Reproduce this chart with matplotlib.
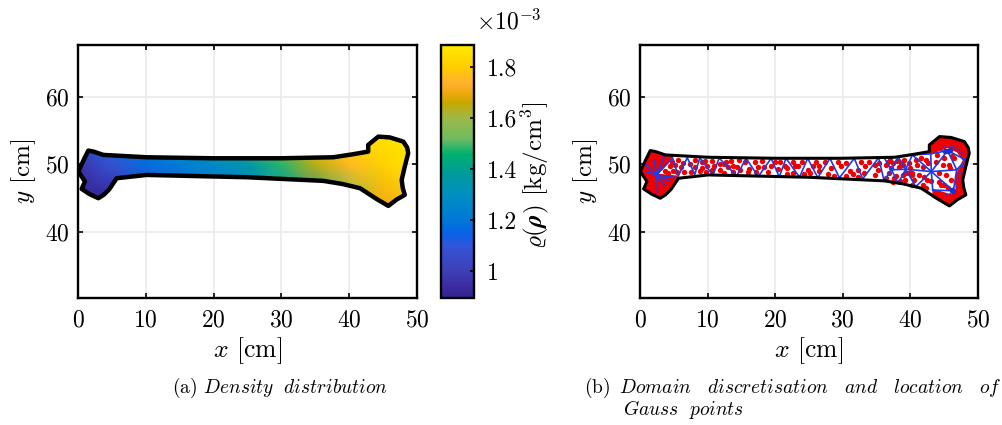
import matplotlib
matplotlib.use("Agg")
import matplotlib.pyplot as plt
from matplotlib.colors import LinearSegmentedColormap
from matplotlib.patches import Polygon

plt.rcParams['font.family'] = ['cmr10', 'DejaVu Sans']
plt.rcParams['mathtext.fontset'] = 'cm'
plt.rcParams['axes.formatter.use_mathtext'] = True
plt.rcParams['axes.unicode_minus'] = False

# bone outline (cm)
bone_x = [0.05, 0.9, 1.52, 2.3, 3.74, 10.1, 19.96, 29.8, 37.66, 40.5, 42.8, 42.8, 44.3, 46.0, 47.98, 48.55, 48.7,
          48.2, 47.74, 47.9, 48.2, 47.0, 45.77, 44.0, 41.6, 39.0, 36.18, 24.9, 10.1, 5.7, 4.6, 3.8, 3.0, 1.7,
          0.54, 1.03]
bone_y = [48.94, 50.8, 52.05, 51.9, 51.41, 51.06, 50.91, 50.91, 51.06, 51.5, 51.9, 52.89, 54.12, 54.0, 53.38, 52.5,
          51.66, 49.7, 47.7, 46.5, 45.48, 44.8, 43.85, 44.9, 46.47, 47.1, 47.56, 48.1, 48.44, 47.95, 46.3, 45.5,
          44.99, 45.6, 46.37, 47.46]

# density field, three rows over the grid (x10^-3)
grid_x = [0, 5, 10, 15, 20, 25, 30, 35, 40, 45, 50]
grid_y = [44, 50, 56]
rho_low = [0.894, 0.90, 0.99, 1.11, 1.18, 1.23, 1.29, 1.38, 1.52, 1.70, 1.77]
rho_mid = [0.97, 1.09, 1.17, 1.22, 1.27, 1.35, 1.48, 1.64, 1.76, 1.82, 1.88]
rho_top = [1.15, 1.21, 1.26, 1.32, 1.44, 1.60, 1.75, 1.80, 1.86, 1.886, 1.886]

# colormap
cb_vals = [0.894, 1.0, 1.1, 1.14, 1.2, 1.3, 1.38, 1.46, 1.52, 1.6, 1.66, 1.70, 1.74, 1.8, 1.886]
cb_cols = ['#352090', '#3f3fb8', '#3355d8', '#0a60e8', '#0078d8', '#0090c0', '#009a9a', '#00b070',
           '#70bb60', '#9db848', '#c8a800', '#f0aa10', '#ffb030', '#ffcc00', '#ffe800']

# mesh nodes right and left ends + zigzag along shaft
zig_x = [2.46, 4.82, 5.66, 7.0, 8.1, 8.85, 10.8, 11.7, 14.3, 15.7, 17.5, 19.4, 20.6, 21.6, 23.6, 24.8,
         26.3, 28.1, 29.5, 31.7, 32.95, 35.3, 36.1]
zig_y = [48.44, 50.95, 48.3, 51.0, 48.5, 50.95, 48.4, 50.95, 48.3, 50.9, 48.2, 50.9, 48.15, 50.9, 48.1, 50.9,
         48.05, 50.9, 48.0, 50.9, 47.85, 51.0, 47.6]
node_x = [43.1, 39.3, 37.2, 45.5, 46.36, 46.85, 43.0, 43.3, 40.3, 40.8, 38.2, 38.2, 36.1, 36.1, 48.2]
node_y = [48.94, 49.29, 49.2, 52.05, 46.1, 49.2, 51.56, 46.2, 51.4, 46.7, 51.1, 47.2, 51.0, 47.6, 50.67]
edge_a = [0, 0, 0, 0, 0, 0, 0, 0, 1, 1, 1, 1, 1, 2, 2, 2, 2, 3, 3, 3, 4, 4, 5, 6, 10, 11, 12, 13]
edge_b = [6, 7, 8, 9, 3, 5, 1, 4, 2, 10, 8, 11, 9, 10, 11, 12, 13, 6, 5, 14, 5, 7, 14, 8, 8, 9, 10, 11]
left_x = [2.46, 2.46, 2.46, 2.46, 2.46, 2.46, 2.46, 2.46]
left_y = [48.44, 48.44, 48.44, 48.44, 48.44, 48.44, 48.44, 48.44]
left_tx = [0.64, 2.1, 3.6, 3.6, 2.6, 4.3, 6.05, 1.0]
left_ty = [50.17, 50.6, 51.2, 46.9, 45.9, 47.6, 47.95, 48.9]

# gauss points
gauss_x = [9.6, 10.6, 9.1, 9.9, 10.9, 9.7, 10.7, 11.8, 11.8, 12.7, 13.5, 13.0, 13.8, 12.5, 13.8, 14.65, 15.5,
           14.35, 14.75, 16.1, 17.0, 18.0, 17.45, 18.4, 17.2, 18.9, 19.9, 20.65, 19.4, 20.4, 21.4, 21.7, 21.7,
           22.9, 23.4, 22.6,
           22.6, 24.0, 23.1, 24.3, 24.8, 25.1, 26.05, 27.3, 26.55, 26.45, 27.8, 28.75, 28.3, 29.25, 30.5, 29.7,
           30.5, 32.2, 31.5, 32.7, 33.9, 33.3, 32.2, 33.2, 34.7, 34.7, 35.4, 35.15,
           5.6, 6.3, 6.0, 6.5, 7.4, 8.1, 8.1, 7.6, 9.1, 8.9,
           3.7, 4.5, 4.9, 4.2, 5.2, 5.4, 4.7,
           36.73, 36.39, 37.5, 36.9, 36.39, 37.6, 37.4, 38.6, 39.1, 39.8, 38.85, 39.8, 40.6, 40.3, 40.8, 41.05,
           40.3, 41.8, 42.3, 41.3, 40.3, 42.5, 41.8, 42.3, 44.0, 43.8, 44.75, 45.7, 46.5, 44.25, 45.2, 46.0,
           46.7, 44.5, 45.5, 44.25,
           37.0, 38.0, 38.3, 38.9, 39.4, 37.9, 38.5, 39.2, 40.0, 37.1, 41.6, 42.6, 43.0, 42.0, 44.9, 45.9,
           46.2, 45.0, 16.0, 12.4, 25.6, 31.0]
gauss_y = [50.52, 50.52, 49.53, 49.83, 49.83, 48.84, 49.2, 50.03, 49.2, 50.42, 50.52, 49.68, 49.83, 48.7, 48.84,
           50.67, 50.42, 49.68, 49.2, 49.33, 50.42, 50.52, 49.68, 49.68, 48.94, 48.94, 50.42, 50.42, 49.83, 49.33,
           49.83, 49.43, 48.55, 49.83, 49.83, 48.7,
           50.42, 50.42, 49.83, 48.55, 49.2, 48.7, 50.42, 50.42, 49.83, 49.04, 48.55, 48.35, 49.53, 50.42, 50.17,
           49.83, 48.35, 48.2, 48.55, 50.42, 50.42, 49.83, 49.2, 48.7, 49.93, 48.45, 50.17, 49.2,
           50.7, 50.2, 49.6, 48.9, 50.0, 50.6, 49.6, 48.9, 50.4, 49.0,
           49.0, 49.7, 49.0, 48.7, 49.9, 48.9, 50.4,
           50.42, 49.9, 50.17, 48.7, 47.95, 47.95, 47.46, 50.17, 50.67, 50.17, 48.44, 48.7, 47.7, 48.44, 50.67,
           49.9, 46.96, 49.68, 50.67, 48.44, 48.7, 47.7, 46.96, 46.47, 51.4, 50.42, 49.9, 49.9, 50.9, 48.7,
           48.44, 47.7, 47.46, 46.96, 46.47, 47.46,
           50.7, 50.5, 49.6, 49.9, 48.8, 48.3, 47.5, 47.7, 49.5, 49.4, 51.0, 50.2, 47.5, 48.2, 51.0, 49.4,
           51.3, 46.9, 48.9, 50.0, 49.7, 49.0]

# areas so packed with gauss points they read as solid red
red_left_x = [1.5, 3.74, 4.8, 2.46, 5.5, 5.7, 3.0, 0.54, 1.03, 0.05]
red_left_y = [52.05, 51.41, 51.2, 48.5, 48.2, 47.95, 44.99, 46.37, 47.46, 48.94]
red_right_x = [42.8, 42.8, 44.3, 46.0, 47.98, 48.55, 48.7, 48.2, 47.74, 47.9, 48.2, 47.0, 45.77, 43.4, 43.4, 46.1,
               46.8, 46.9, 47.9, 47.0, 45.5, 43.0]
red_right_y = [51.9, 52.89, 54.12, 54.0, 53.38, 52.5, 51.66, 49.7, 47.7, 46.5, 45.48, 44.8, 43.85, 45.2, 46.2, 45.4,
               46.1, 48.5, 50.6, 51.9, 52.6, 51.65]

# small blue marks on the rim
rim_x = [46.4, 47.0, 47.5, 47.9, 47.6, 47.3, 47.0, 46.7, 45.9, 45.2, 44.6, 45.0, 46.0, 44.9]
rim_y = [52.6, 52.3, 51.8, 51.0, 49.8, 48.8, 47.8, 46.8, 45.7, 45.6, 52.2, 52.7, 52.8, 51.8]
blob_x = [45.5, 45.9, 45.1, 46.36, 46.1]
blob_y = [52.05, 52.2, 52.0, 46.1, 46.2]

xticks = [0, 10, 20, 30, 40, 50]
yticks = [40, 50, 60]
cb_ticks = [1, 1.2, 1.4, 1.6, 1.8]
cb_labels = ['1', '1.2', '1.4', '1.6', '1.8']

W, H = 1003, 425
fig = plt.figure(figsize=(W / 100, H / 100), dpi=100)


def box(x0, y0, x1, y1):
    return [x0 / W, 1 - y1 / H, (x1 - x0) / W, (y1 - y0) / H]


def setup(ax):
    ax.set_xlim(0, 50)
    ax.set_ylim(30.2, 67.7)
    ax.set_xticks(xticks)
    ax.set_yticks(yticks)
    ax.grid(color='#ececec', lw=1.3)
    ax.set_axisbelow(True)
    ax.tick_params(direction='in', length=3.5, width=1.2, labelsize=17, top=True, right=True, pad=6)
    ax.tick_params(axis='x', pad=8)
    for s in ax.spines.values():
        s.set_linewidth(1.7)
    ax.set_xlabel(r'$x$ [cm]', fontsize=18.5, labelpad=3)
    ax.set_ylabel(r'$y$ [cm]', fontsize=18, labelpad=5)


cmap = LinearSegmentedColormap.from_list(
    'bone_density', [((v - cb_vals[0]) / (cb_vals[-1] - cb_vals[0]), c) for v, c in zip(cb_vals, cb_cols)], N=256)

ax1 = fig.add_axes(box(78, 45, 417, 298))
setup(ax1)
mesh = ax1.pcolormesh(grid_x, grid_y, [rho_low, rho_mid, rho_top], cmap=cmap, shading='gouraud',
                      vmin=cb_vals[0], vmax=cb_vals[-1], zorder=2)
clip = Polygon(list(zip(bone_x, bone_y)), closed=True, transform=ax1.transData)
mesh.set_clip_path(clip)
ax1.add_patch(Polygon(list(zip(bone_x, bone_y)), closed=True, fill=False, ec='k', lw=3.2, joinstyle='round', zorder=3))

cax = fig.add_axes(box(441, 45, 474, 298))
cb = fig.colorbar(mesh, cax=cax)
cb.set_ticks(cb_ticks)
cb.set_ticklabels(cb_labels)
cb.ax.tick_params(direction='in', length=3, width=1.2, labelsize=17, pad=9)
cb.outline.set_linewidth(1.7)
fig.text(476 / W, 1 - 29 / H, r'$\times 10^{-3}$', fontsize=17, va='baseline')
fig.text(535 / W, 1 - 175 / H, r'$\varrho(\boldsymbol{\rho})$ [kg/cm$^3$]', fontsize=18, rotation=90,
         ha='center', va='center')

ax2 = fig.add_axes(box(640, 45, 978, 298))
setup(ax2)
ax2.add_patch(Polygon(list(zip(bone_x, bone_y)), closed=True, fc='white', ec='none', zorder=2))
ax2.fill(red_left_x, red_left_y, fc='#f00000', ec='#f00000', lw=1.5, zorder=3)
ax2.fill(red_right_x, red_right_y, fc='#f00000', ec='#f00000', lw=1.5, zorder=3)
ax2.scatter(gauss_x, gauss_y, s=15, color='#f00000', lw=0, zorder=3)
ax2.plot(zig_x, zig_y, color='#1f3be8', lw=1.2, zorder=4)
for a, b in zip(edge_a, edge_b):
    ax2.plot([node_x[a], node_x[b]], [node_y[a], node_y[b]], color='#1f3be8', lw=1.2, zorder=4)
for x0, y0, x1, y1 in zip(left_x, left_y, left_tx, left_ty):
    ax2.plot([x0, x1], [y0, y1], color='#1f3be8', lw=1.2, zorder=4)
ax2.scatter(rim_x, rim_y, s=2.5, color='#1f3be8', lw=0, zorder=4)
ax2.scatter(blob_x, blob_y, s=16, color='#1a2fd0', lw=0, zorder=4)
ax2.add_patch(Polygon(list(zip(bone_x, bone_y)), closed=True, fill=False, ec='k', lw=2.2, joinstyle='round', zorder=5))

fig.text(172 / W, 1 - 393 / H, r'(a) $\mathit{Density}\ \ \mathit{distribution}$', fontsize=14, va='baseline')
fig.text(584 / W, 1 - 393 / H,
         r'(b) $\,\mathit{Domain}\ \ \ \mathit{discretisation}\ \ \ \mathit{and}\ \ \ \mathit{location}\ \ \ \mathit{of}$',
         fontsize=14, va='baseline')
fig.text(623 / W, 1 - 415 / H, r'$\mathit{Gauss}\ \ \mathit{points}$', fontsize=14, va='baseline')

fig.savefig('out.png', dpi=100)
